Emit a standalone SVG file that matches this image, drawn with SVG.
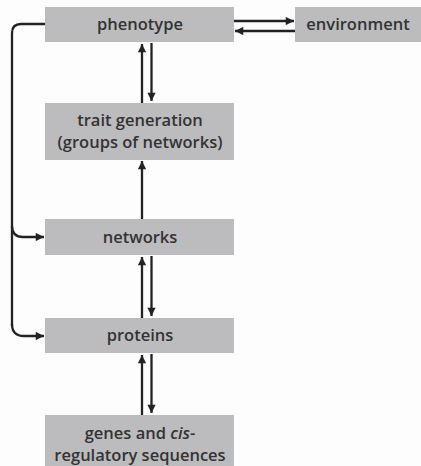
<svg xmlns="http://www.w3.org/2000/svg" width="421" height="466" viewBox="0 0 421 466">
<defs>
<marker id="ah" viewBox="0 0 10 10" refX="10" refY="5" markerWidth="4" markerHeight="3.6" markerUnits="strokeWidth" orient="auto">
<path d="M0,0 L10,5 L0,10 z" fill="#222"/>
</marker>
<style>
.box{fill:#bcbcbe;}
.t{font-family:"Open Sans","Liberation Sans",sans-serif;font-weight:600;font-size:16.5px;fill:#333;text-anchor:middle;}
.c{fill:none;stroke:#222;stroke-width:2.3;marker-end:url(#ah);}
.cl{fill:none;stroke:#222;stroke-width:2.3;}
</style>
</defs>
<rect width="421" height="466" fill="#fdfdfd"/>
<g id="phenotype"><rect class="box" x="45" y="7" width="189" height="35"/><text class="t" x="140" y="30">phenotype</text></g>
<g id="environment"><rect class="box" x="295" y="7" width="126" height="35"/><text class="t" x="358" y="30">environment</text></g>
<g id="trait"><rect class="box" x="45" y="103" width="189" height="57"/><text class="t" x="140" y="126">trait generation</text><text class="t" x="140" y="148">(groups of networks)</text></g>
<g id="networks"><rect class="box" x="45" y="219" width="189" height="36"/><text class="t" x="140" y="243">networks</text></g>
<g id="proteins"><rect class="box" x="45" y="318" width="189" height="35"/><text class="t" x="140" y="341">proteins</text></g>
<g id="genes"><rect class="box" x="45" y="415" width="189" height="51"/><text class="t" x="140" y="439">genes and <tspan font-style="italic">cis</tspan>-</text><text class="t" x="140" y="461">regulatory sequences</text></g>
<g id="connectors">
<path class="c" d="M234,21 H294"/>
<path class="c" d="M295,31 H235"/>
<path class="c" d="M142,103 V44"/>
<path class="c" d="M151.5,43 V101"/>
<path class="c" d="M142,219 V161"/>
<path class="c" d="M142,318 V257"/>
<path class="c" d="M151.5,256 V316"/>
<path class="c" d="M142,415 V355"/>
<path class="c" d="M151.5,354 V413"/>
<path class="cl" d="M45,24 H21 Q12,24 12,33 V326"/>
<path class="c" d="M12,226 Q12,237 23,237 H44"/>
<path class="c" d="M12,324 Q12,336 24,336 H44"/>
</g>
</svg>
